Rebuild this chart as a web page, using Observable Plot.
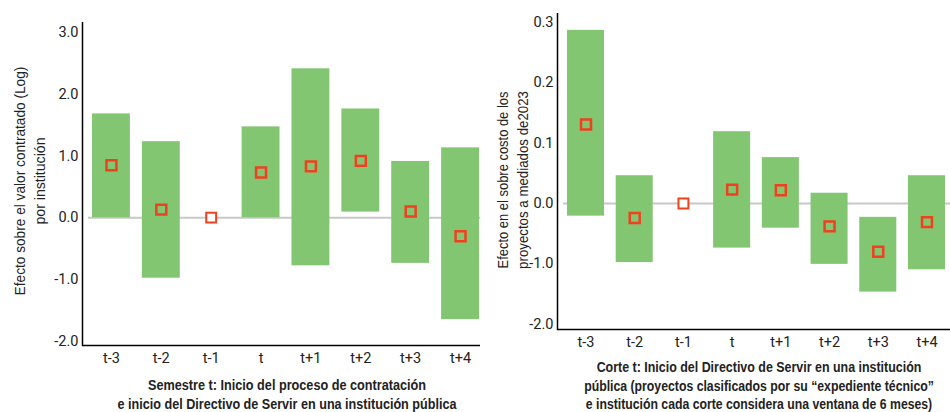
<!DOCTYPE html>
<html><head><meta charset="utf-8">
<script src="https://cdn.jsdelivr.net/npm/d3@7"></script>
<script src="https://cdn.jsdelivr.net/npm/@observablehq/plot@0.6"></script>
<style>
body{margin:0;background:#fff;}
#wrap{position:relative;width:950px;height:412px;overflow:hidden;}
#wrap > svg{position:absolute;top:0;}
</style></head><body><div id="wrap"></div>
<script>
const periods = ["t-3","t-2","t-1","t","t+1","t+2","t+3","t+4"];
const reference = "t-1";

const leftEst  = [0.85, 0.13, 0, 0.73, 0.83, 0.92, 0.10, -0.30];
const leftLow  = [0, -0.98, null, 0, -0.78, 0.09, -0.74, -1.65];
const leftHigh = [1.68, 1.23, null, 1.47, 2.41, 1.76, 0.91, 1.13];
const leftTicks = [3, 2, 1, 0, -1, -2];
const leftTickLabels = ["3.0", "2.0", "1.0", "0.0", "-1.0", "-2.0"];
const leftYTitle = ["Efecto sobre el valor contratado (Log)", "por institución"];
const leftXTitle = ["Semestre t: Inicio del proceso de contratación", "e inicio del Directivo de Servir en una institución pública"];

const rightEst  = [0.131, -0.024, 0, 0.023, 0.022, -0.038, -0.080, -0.031];
const rightLow  = [-0.021, -0.098, null, -0.074, -0.041, -0.101, -0.147, -0.110];
const rightHigh = [0.287, 0.046, null, 0.119, 0.076, 0.017, -0.023, 0.046];
const rightTicks = [0.3, 0.2, 0.1, 0, -0.1, -0.2];
const rightTickLabels = ["0.3", "0.2", "0.1", "0.0", "-1.0", "-2.0"];
const rightYTitle = ["Efecto en el sobre costo de los", "proyectos a mediados de2023"];
const rightXTitle = ["Corte t: Inicio del Directivo de Servir en una institución", "pública (proyectos clasificados por su “expediente técnico”", "e institución cada corte considera una ventana de 6 meses)"];

const GREEN = "#82c672", RED = "#f0401e", ZERO = "#c8c8c8";
const TICKFONT = "Roboto, 'Liberation Sans', sans-serif";
const TITLEFONT = "'Liberation Sans', Arial, sans-serif";

function panel(o) {
  const rows = periods.map((p, i) => ({p, est: o.est[i], low: o.low[i], high: o.high[i]}));
  return Plot.plot({
    width: o.width, height: 412,
    marginLeft: o.marginLeft, marginRight: 0, marginTop: o.marginTop, marginBottom: o.marginBottom,
    style: {fontFamily: TICKFONT, fontSize: "14.5px", color: "#222", background: "transparent", overflow: "visible"},
    x: {domain: periods, range: o.xRange, paddingInner: 0.24, paddingOuter: 0, round: false, label: null, tickSize: 0, tickPadding: 7},
    y: {domain: o.domain, ticks: o.ticks, tickFormat: d => o.labels[o.ticks.indexOf(d)], label: null, tickSize: 0, tickPadding: 4},
    marks: [
      Plot.ruleY([0], {stroke: ZERO, strokeWidth: 2, insetLeft: 6}),
      Plot.barY(rows.filter(d => d.low != null), {x: "p", y1: "low", y2: "high", fill: GREEN}),
      Plot.dot(rows.filter(d => d.p !== reference), {x: "p", y: "est", symbol: "square", r: 5.6, stroke: RED, strokeWidth: 2.5, fill: "none"}),
      Plot.dot(rows.filter(d => d.p === reference), {x: "p", y: "est", symbol: "square", r: 5.6, stroke: RED, strokeWidth: 2, fill: "#fff"})
    ]
  });
}

const wrap = document.getElementById("wrap");
const panels = [
  {est: leftEst, low: leftLow, high: leftHigh, ticks: leftTicks, labels: leftTickLabels,
   domain: [-2.07, 3.16], width: 480, marginLeft: 82, marginTop: 22, marginBottom: 67, xRange: [92, 479], offset: 0},
  {est: rightEst, low: rightLow, high: rightHigh, ticks: rightTicks, labels: rightTickLabels,
   domain: [-0.209, 0.315], width: 470, marginLeft: 77, marginTop: 13, marginBottom: 83, xRange: [87, 465], offset: 480}
];

panels.forEach(o => {
  const chart = panel(o);
  chart.style.left = o.offset + "px";
  wrap.appendChild(chart);
  o.chart = chart;
});

// overlay for axis lines and titles
const ov = d3.select(wrap).append("svg").attr("width", 950).attr("height", 412)
  .style("left", "0px").style("pointer-events", "none")
  .attr("font-family", TITLEFONT).attr("fill", "#222");

panels.forEach(o => {
  const [yb, yt] = o.chart.scale("y").range;
  const x0 = o.offset + o.marginLeft + 0.5, x1 = o.offset + o.width;
  ov.append("path").attr("d", `M${x0},${yt}V${yb + 0.5}H${x1}`).attr("fill", "none").attr("stroke", "#000").attr("stroke-width", 1.5);
});

function fitText(sel, target) {
  const w = sel.node().getComputedTextLength();
  return target / w;
}
function yTitle(lines, xs, cy, lens) {
  lines.forEach((t, i) => {
    const tx = ov.append("text").attr("text-anchor", "middle").attr("dominant-baseline", "central")
      .attr("font-size", 15).text(t);
    const s = fitText(tx, lens[i]);
    tx.attr("transform", `translate(${xs[i]},${cy}) rotate(-90) scale(${s},1)`);
  });
}
function xTitle(lines, cx, ys, lens) {
  lines.forEach((t, i) => {
    const tx = ov.append("text").attr("text-anchor", "middle").attr("dominant-baseline", "central")
      .attr("font-size", 14.5).attr("font-weight", "bold").text(t);
    const s = fitText(tx, lens[i]);
    tx.attr("transform", `translate(${cx},${ys[i]}) scale(${s},1)`);
  });
}
yTitle(leftYTitle, [20, 40], 181, [229, 87]);
yTitle(rightYTitle, [503, 523], 180, [177, 178]);
xTitle(leftXTitle, 287, [385, 404], [278, 339]);
xTitle(rightXTitle, 759, [367, 386, 404], [325, 350, 347]);
</script>
</body></html>
